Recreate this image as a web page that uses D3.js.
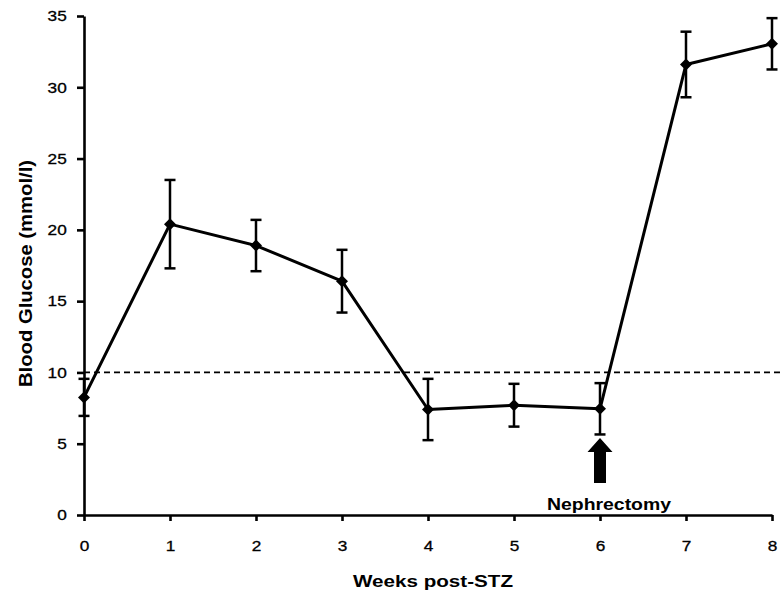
<!DOCTYPE html>
<html>
<head>
<meta charset="utf-8">
<script src="https://cdn.jsdelivr.net/npm/d3@7"></script>
<style>
  body { margin: 0; background: #fff; }
  svg { display: block; }
</style>
</head>
<body>
<svg id="chart" width="784" height="595"></svg>
<script>
// Blood glucose after STZ, mean ± SEM per week
const weeks = [0, 1, 2, 3, 4, 5, 6, 7, 8];
const glucose = [8.25, 20.4, 18.9, 16.4, 7.4, 7.7, 7.45, 31.6, 33.05];
const sem = [1.3, 3.1, 1.8, 2.2, 2.15, 1.5, 1.8, 2.3, 1.8];
const xTicks = [0, 1, 2, 3, 4, 5, 6, 7, 8];
const yTicks = [0, 5, 10, 15, 20, 25, 30, 35];
const threshold = 10;
const nephrectomyWeek = 6;

const FONT = "'Liberation Sans', Arial, Helvetica, sans-serif";
const INK = "#000";

const svg = d3.select("#chart");
const x = d3.scaleLinear().domain([0, 8]).range([84, 772]);
const y = d3.scaleLinear().domain([0, 35]).range([515, 16]);

const points = weeks.map((w, i) => ({ w, g: glucose[i], s: sem[i] }));

// dashed threshold line
svg.append("line")
  .attr("x1", x(0)).attr("x2", 784)
  .attr("y1", y(threshold)).attr("y2", y(threshold))
  .attr("stroke", INK).attr("stroke-width", 1.8)
  .attr("stroke-dasharray", "6,4");

// y axis
const yAxis = svg.append("g")
  .attr("transform", `translate(${x(0)},0)`)
  .call(d3.axisLeft(y).tickValues(yTicks).tickSize(7).tickPadding(8).tickSizeOuter(0));
// x axis
const xAxis = svg.append("g")
  .attr("transform", `translate(0,${y(0)})`)
  .call(d3.axisBottom(x).tickValues(xTicks).tickSize(6).tickSizeOuter(0).tickFormat(d3.format("d")));

[yAxis, xAxis].forEach(g => {
  g.attr("font-size", 15).attr("font-family", FONT);
  g.selectAll("path, line").attr("stroke", INK).attr("stroke-width", 2.6);
  g.selectAll("text")
    .attr("fill", INK)
    .attr("stroke", INK)
    .attr("stroke-width", 0.3)
    .attr("font-size", 15)
    .attr("transform", "scale(1.15,1)");
});
xAxis.selectAll("text").attr("y", 25);

// connecting line
svg.append("path")
  .datum(points)
  .attr("fill", "none")
  .attr("stroke", INK)
  .attr("stroke-width", 3)
  .attr("stroke-linejoin", "round")
  .attr("d", d3.line().x(d => x(d.w)).y(d => y(d.g)));

// error bars
const bars = svg.append("g").attr("stroke", INK).attr("stroke-width", 2.5);
points.forEach(d => {
  const cx = x(d.w), top = y(d.g + d.s), bot = y(d.g - d.s);
  bars.append("line").attr("x1", cx).attr("x2", cx).attr("y1", top).attr("y2", bot);
  bars.append("line").attr("x1", cx - 5.5).attr("x2", cx + 5.5).attr("y1", top).attr("y2", top);
  bars.append("line").attr("x1", cx - 5.5).attr("x2", cx + 5.5).attr("y1", bot).attr("y2", bot);
});

// diamond markers
svg.append("g").selectAll("path")
  .data(points)
  .join("path")
  .attr("transform", d => `translate(${x(d.w)},${y(d.g)})`)
  .attr("d", "M0,-6L6,0L0,6L-6,0Z")
  .attr("fill", INK);

// nephrectomy arrow
const ax = x(nephrectomyWeek), ay = y(0);
svg.append("path")
  .attr("transform", `translate(${ax},${ay})`)
  .attr("d", "M0,-77L12.5,-63L6,-63L6,-32L-6,-32L-6,-63L-12.5,-63Z")
  .attr("fill", INK);

svg.append("text")
  .attr("x", ax + 9).attr("y", ay - 5.5)
  .attr("text-anchor", "middle")
  .attr("textLength", 124).attr("lengthAdjust", "spacingAndGlyphs")
  .attr("font-family", FONT).attr("font-size", 16).attr("font-weight", "bold")
  .attr("fill", INK)
  .text("Nephrectomy");

// axis titles
svg.append("text")
  .attr("x", 433).attr("y", 586.5)
  .attr("text-anchor", "middle")
  .attr("textLength", 160).attr("lengthAdjust", "spacingAndGlyphs")
  .attr("font-family", FONT).attr("font-size", 17).attr("font-weight", "bold")
  .attr("fill", INK)
  .text("Weeks post-STZ");

svg.append("text")
  .attr("transform", "translate(31.5,273.5) rotate(-90)")
  .attr("text-anchor", "middle")
  .attr("textLength", 227).attr("lengthAdjust", "spacingAndGlyphs")
  .attr("font-family", FONT).attr("font-size", 19).attr("font-weight", "bold")
  .attr("fill", INK)
  .text("Blood Glucose (mmol/l)");
</script>
</body>
</html>
